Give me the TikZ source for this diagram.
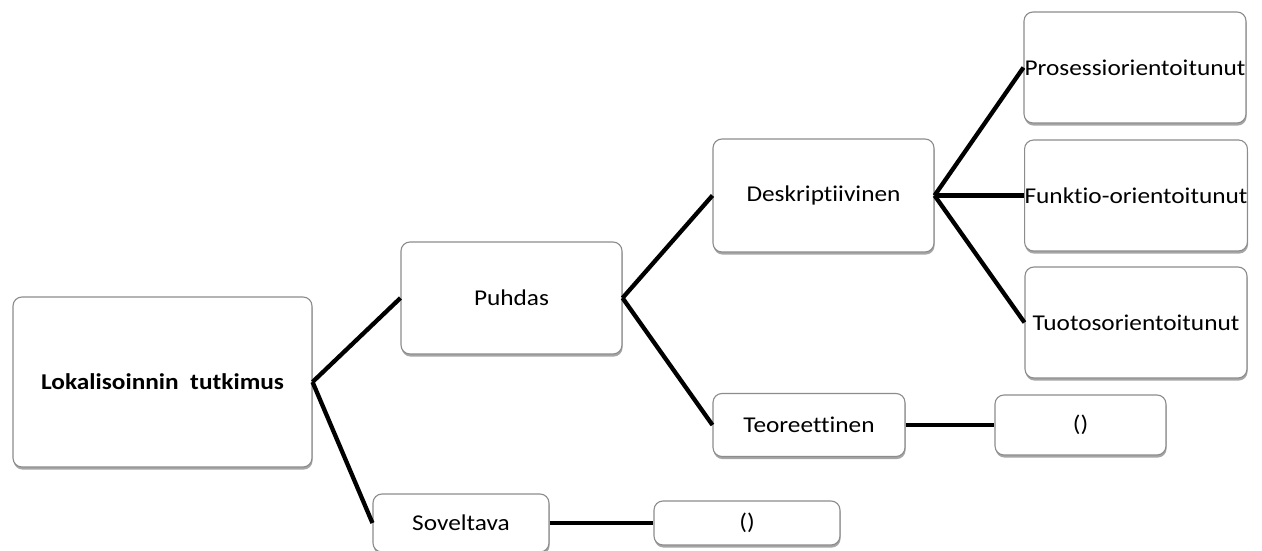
\documentclass[tikz,border=0pt]{standalone}
\usepackage{fontspec}
\setmainfont{Carlito}[FakeStretch=1.12, Ligatures={NoCommon}]
\usetikzlibrary{shadows}
\begin{document}
\begin{tikzpicture}[x=1pt,y=-1pt,
  box/.style={draw=black!45, line width=1.1pt, fill=white, rounded corners=9pt,
    inner sep=0pt, align=center, font=\fontsize{22.6}{26}\selectfont,
    drop shadow={shadow xshift=0.6pt, shadow yshift=-2.6pt, fill=black, opacity=0.35}},
  link/.style={line width=4.3pt, black}]
\useasboundingbox (0,0) rectangle (1262,551);
\fill[white] (0,0) rectangle (1262,551);
\node[box, minimum width=299pt, minimum height=170pt] (L) at (162.5,382) {\textbf{Lokalisoinnin\ \ tutkimus}};
\node[box, minimum width=221pt, minimum height=112pt] (P) at (511.5,298) {Puhdas};
\node[box, minimum width=176pt, minimum height=58pt] (S) at (461,523) {Soveltava};
\node[box, minimum width=186pt, minimum height=44pt] (S2) at (747,523) {()};
\node[box, minimum width=221pt, minimum height=113pt] (D) at (823.5,195.5) {Deskriptiivinen};
\node[box, minimum width=192pt, minimum height=63pt] (T) at (809,425) {Teoreettinen};
\node[box, minimum width=171pt, minimum height=60pt] (T2) at (1080.5,425) {()};
\node[box, minimum width=222pt, minimum height=111pt] (Pr) at (1135,67.5) {Prosessiorientoitunut};
\node[box, minimum width=222pt, minimum height=111pt] (F) at (1136,195.5) {Funktio-orientoitunut};
\node[box, minimum width=222pt, minimum height=111pt] (Tu) at (1136,322.5) {Tuotosorientoitunut};
\draw[link] (L.east) -- (P.west);
\draw[link] (L.east) -- (S.west);
\draw[link] (S.east) -- (S2.west);
\draw[link] (P.east) -- (D.west);
\draw[link] (P.east) -- (T.west);
\draw[link] (T.east) -- (T2.west);
\draw[link] (D.east) -- (Pr.west);
\draw[link] (D.east) -- (F.west);
\draw[link] (D.east) -- (Tu.west);
\end{tikzpicture}
\end{document}
